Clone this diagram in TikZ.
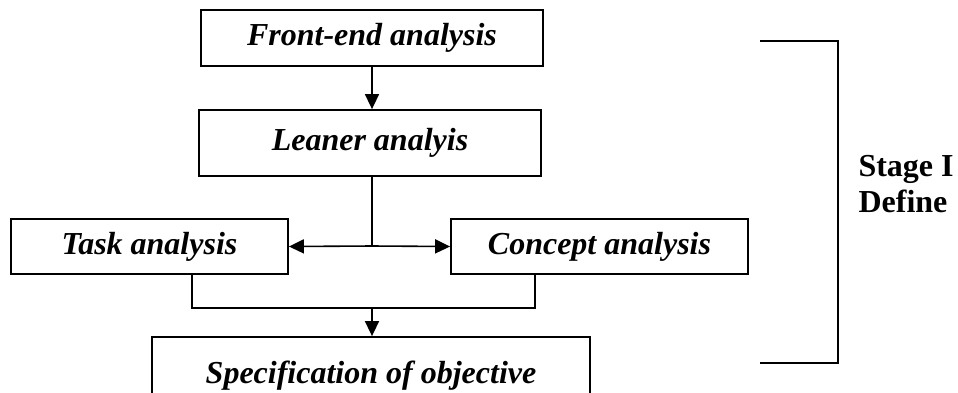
\documentclass[tikz,border=0pt]{standalone}
\usepackage{fontspec}
\setmainfont{Liberation Serif}
\usetikzlibrary{arrows.meta}

\begin{document}
\begin{tikzpicture}[x=1pt,y=-1pt,
    box/.style={draw,line width=1.8pt,inner sep=0pt,font=\fontsize{32}{36}\selectfont\bfseries\itshape},
    arr/.style={line width=1.6pt,-{Triangle[length=15pt,width=14pt]}},
    link/.style={line width=1.6pt}]
            \useasboundingbox (0,0) rectangle (958,392);
            \clip (0,0) rectangle (958,392);
            \node[box,minimum width=342pt,minimum height=56pt] (front) at (372,38) {Front-end analysis};
            \node[box,minimum width=342pt,minimum height=66pt] (leaner) at (370,143) {Leaner analyis};
            \node[box,minimum width=277pt,minimum height=55pt] (task) at (149.5,246.5) {Task analysis};
            \node[box,minimum width=297pt,minimum height=55pt] (concept) at (599.5,246.5) {Concept analysis};
            \node[box,minimum width=438pt,minimum height=62pt,text height=30pt,text depth=0pt] (spec) at (371,368) {Specification of objective};
            \coordinate (split) at (372,246);
            \coordinate (tjoin) at (192,308);
            \coordinate (cjoin) at (535,308);
            \draw[arr] (front.south -| split) -- (leaner.north -| split);
            \draw[link] (leaner.south -| split) -- (split);
            \draw[arr] (split) -- (task.east);
            \draw[arr] (split) -- (concept.west);
            \draw[link] (task.south -| tjoin) -- (tjoin) -- (cjoin) -- (concept.south -| cjoin);
            \draw[arr] (split |- tjoin) -- (spec.north -| split);
            % bracket for the stage
            \coordinate (btop) at (760,41);
            \coordinate (bbot) at (760,363);
            \draw[link] (btop) -- ++(78,0) |- (bbot);
            \node[anchor=west,align=left,font=\fontsize{32}{36}\selectfont\bfseries] (stage) at (855,184) {Stage I\\Define};
        \end{tikzpicture}
\end{document}
